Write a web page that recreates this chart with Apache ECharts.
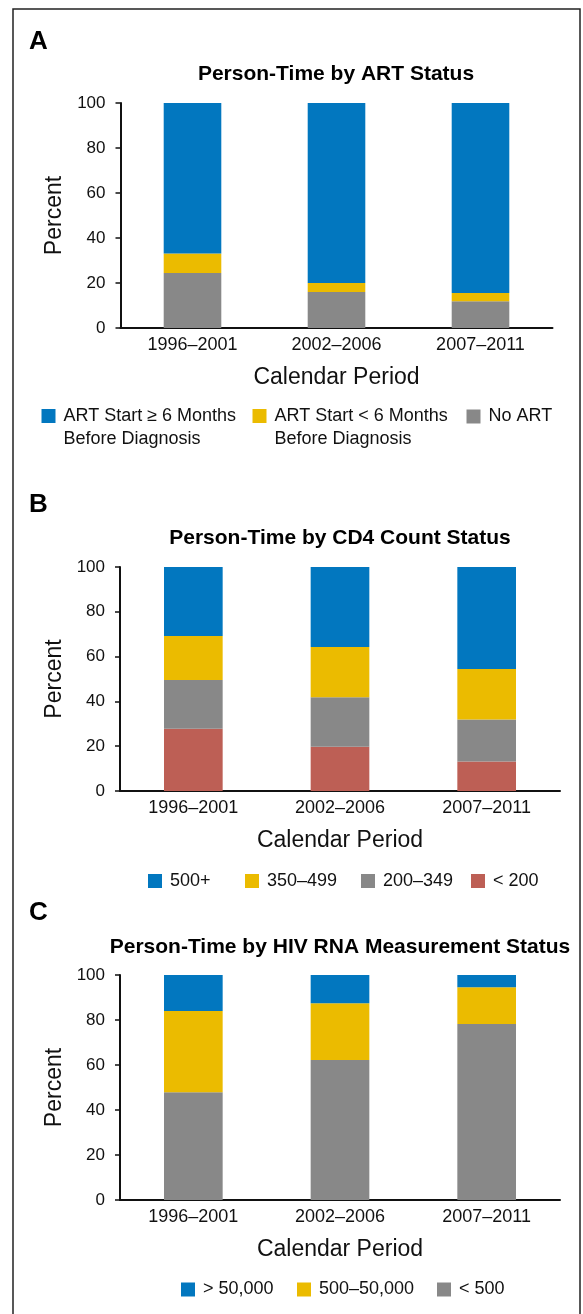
<!DOCTYPE html>
<html>
<head>
<meta charset="utf-8">
<script src="https://cdn.jsdelivr.net/npm/echarts@6/dist/echarts.min.js"></script>
<style>
  html, body { margin: 0; padding: 0; background: #fff; }
  #main { width: 583px; height: 1314px; }
</style>
</head>
<body>
<div id="main"></div>
<script>
// 日历期
var periods = ['1996–2001', '2002–2006', '2007–2011']

// A: ART 状态 (自下而上)
var artNone = [24.5, 16.0, 11.9]
var artLate = [8.6, 4.0, 3.7]
var artEarly = [66.9, 80.0, 84.4]

// B: CD4 计数 (自下而上)
var cd4Low = [27.8, 19.8, 13.2]
var cd4Mid = [21.8, 22.0, 18.7]
var cd4High = [19.6, 22.5, 22.6]
var cd4Top = [30.8, 35.7, 45.5]

// C: HIV RNA (自下而上)
var rnaLow = [47.9, 62.2, 78.2]
var rnaMid = [36.1, 25.3, 16.4]
var rnaHigh = [16.0, 12.5, 5.4]

var yTicks = [0, 20, 40, 60, 80, 100]

var BLUE = '#0277bf'
var YELLOW = '#ebbb00'
var GRAY = '#888888'
var RED = '#bd5f55'
var FONT = 'Liberation Sans, Arial, sans-serif'

var myChart = echarts.init(document.getElementById('main'))

function xAxisOf(i) {
  return {
    type: 'category',
    gridIndex: i,
    data: periods,
    axisLine: { lineStyle: { color: '#111', width: 2 } },
    axisTick: { length: 5, lineStyle: { color: '#111', width: 1.5 } },
    axisLabel: { fontSize: 18, color: '#111', fontFamily: FONT, margin: 8 },
    name: 'Calendar Period',
    nameLocation: 'middle',
    nameGap: 38,
    nameTextStyle: { fontSize: 23, color: '#111', fontFamily: FONT }
  }
}

function yAxisOf(i) {
  return {
    type: 'value',
    gridIndex: i,
    min: yTicks[0],
    max: yTicks[yTicks.length - 1],
    interval: 20,
    splitLine: { show: false },
    axisLine: { show: true, lineStyle: { color: '#111', width: 2 } },
    axisTick: { show: true, length: 5, lineStyle: { color: '#111', width: 1.5 } },
    axisLabel: { fontSize: 17, color: '#111', fontFamily: FONT, margin: 15 },
    name: 'Percent',
    nameLocation: 'middle',
    nameRotate: 90,
    nameGap: 50,
    nameTextStyle: { fontSize: 23, color: '#111', fontFamily: FONT }
  }
}

function bar(name, data, color, i) {
  return {
    name: name,
    type: 'bar',
    stack: 'p' + i,
    xAxisIndex: i,
    yAxisIndex: i,
    barWidth: '40%',
    data: data,
    itemStyle: { color: color }
  }
}

// 单个图例; 两行文字时图标与第一行对齐 (图标框加高, 方块放在顶部)
function legendOf(name, left, top, multi) {
  return {
    data: [{ name: name, icon: multi ? 'path://M0,0h14v14h-14z M0,37' : 'rect' }],
    left: left,
    top: top,
    padding: 0,
    itemWidth: 14,
    itemHeight: multi ? 37 : 14,
    selectedMode: false,
    textStyle: {
      fontSize: 18,
      color: '#111',
      fontFamily: FONT,
      lineHeight: 23,
      padding: [0, 0, 0, 3]
    }
  }
}

var nameA1 = 'ART Start ≥ 6 Months\nBefore Diagnosis'
var nameA2 = 'ART Start < 6 Months\nBefore Diagnosis'

function titleOf(text, left, top, size, align) {
  return {
    text: text,
    left: left,
    top: top,
    padding: 0,
    textAlign: align,
    textStyle: { fontFamily: FONT, color: '#000', fontWeight: 'bold', fontSize: size }
  }
}

var option = {
  backgroundColor: '#fff',
  animation: false,
  title: [
    titleOf('A', 29, 29, 26, 'left'),
    titleOf('Person-Time by ART Status', 336, 64, 21, 'center'),
    titleOf('B', 29, 492, 26, 'left'),
    titleOf('Person-Time by CD4 Count Status', 340, 528, 21, 'center'),
    titleOf('C', 29, 900, 26, 'left'),
    titleOf('Person-Time by HIV RNA Measurement Status', 340, 937, 21, 'center')
  ],
  graphic: [{
    type: 'rect',
    shape: { x: 13, y: 9, width: 567, height: 1330 },
    style: { fill: 'none', stroke: '#222', lineWidth: 1.5 },
    silent: true
  }],
  grid: [
    { left: 120.5, top: 103, width: 432, height: 225 },
    { left: 120, top: 567, width: 440, height: 224 },
    { left: 120, top: 975, width: 440, height: 225 }
  ],
  xAxis: [xAxisOf(0), xAxisOf(1), xAxisOf(2)],
  yAxis: [yAxisOf(0), yAxisOf(1), yAxisOf(2)],
  legend: [
    legendOf(nameA1, 41.5, 404.5, true),
    legendOf(nameA2, 252.5, 404.5, true),
    legendOf('No ART', 466.5, 405, false),
    legendOf('500+', 148, 869.5, false),
    legendOf('350–499', 245, 869.5, false),
    legendOf('200–349', 361, 869.5, false),
    legendOf('< 200', 471, 869.5, false),
    legendOf('> 50,000', 181, 1278, false),
    legendOf('500–50,000', 297, 1278, false),
    legendOf('< 500', 437, 1278, false)
  ],
  series: [
    bar('No ART', artNone, GRAY, 0),
    bar(nameA2, artLate, YELLOW, 0),
    bar(nameA1, artEarly, BLUE, 0),
    bar('< 200', cd4Low, RED, 1),
    bar('200–349', cd4Mid, GRAY, 1),
    bar('350–499', cd4High, YELLOW, 1),
    bar('500+', cd4Top, BLUE, 1),
    bar('< 500', rnaLow, GRAY, 2),
    bar('500–50,000', rnaMid, YELLOW, 2),
    bar('> 50,000', rnaHigh, BLUE, 2)
  ]
}

option && myChart.setOption(option)
</script>
</body>
</html>
